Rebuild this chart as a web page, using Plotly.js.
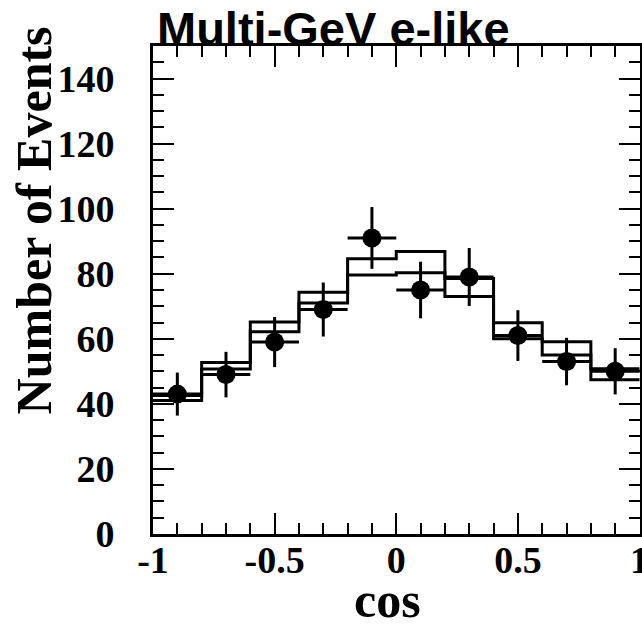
<!DOCTYPE html>
<html>
<head>
<meta charset="utf-8">
<script src="https://cdn.plot.ly/plotly-3.0.1.min.js"></script>
<style>html,body{margin:0;padding:0;background:#fff;}#chart{width:642px;height:628px;}</style>
</head>
<body>
<div id="chart"></div>
<script>
// Bin edges of cos(zenith angle) histogram
const binEdges = [-1, -0.8, -0.6, -0.4, -0.2, 0, 0.2, 0.4, 0.6, 0.8, 1];
const binCenters = [-0.9, -0.7, -0.5, -0.3, -0.1, 0.1, 0.3, 0.5, 0.7, 0.9];
// Data points (number of events) and their errors
const dataEvents = [43, 49, 59, 69, 91, 75, 79, 61, 53, 50];
const dataErr = [6.6, 7.0, 7.7, 8.3, 9.5, 8.7, 8.9, 7.8, 7.3, 7.1];
const dataBinHalf = [0.1, 0.1, 0.1, 0.1, 0.1, 0.1, 0.1, 0.1, 0.1, 0.1];
// Monte Carlo expectation, no oscillation
const mcNoOsc = [42.6, 52.7, 65.2, 74.3, 84.6, 86.8, 78.5, 64.9, 59.1, 50.8];
// Best-fit oscillation expectation
const mcOsc = [41.0, 50.7, 62.2, 71.0, 79.6, 80.3, 73.0, 60.0, 55.0, 47.4];
// Tick labels
const xTickVals = [-1, -0.5, 0, 0.5, 1];
const xTickText = ['-1', '-0.5', '0', '0.5', '1'];
const yTickVals = [0, 20, 40, 60, 80, 100, 120, 140];
const yTickText = ['0', '20', '40', '60', '80', '100', '120', '140'];

function stepY(vals) { return vals.concat([vals[vals.length - 1]]); }

const serifBold = {family: 'Liberation Serif, Times New Roman, serif', weight: 'bold', color: '#000'};

const traces = [
  {x: binEdges, y: stepY(mcNoOsc), type: 'scatter', mode: 'lines',
   line: {shape: 'hv', color: '#000', width: 3}, name: 'MC no oscillation', hoverinfo: 'skip'},
  {x: binEdges, y: stepY(mcOsc), type: 'scatter', mode: 'lines',
   line: {shape: 'hv', color: '#000', width: 3}, name: 'oscillation best fit', hoverinfo: 'skip'},
  {x: binCenters, y: dataEvents, type: 'scatter', mode: 'markers',
   marker: {color: '#000', size: 19, symbol: 'circle'},
   error_y: {type: 'data', array: dataErr, visible: true, color: '#000', thickness: 3, width: 0},
   error_x: {type: 'data', array: dataBinHalf, visible: true, color: '#000', thickness: 3, width: 0},
   name: 'Data'}
];

const axisCommon = {
  showline: true, linecolor: '#000', linewidth: 3, mirror: 'ticks',
  ticks: 'inside', ticklen: 21, tickwidth: 2, tickcolor: '#000',
  showgrid: false, zeroline: false, fixedrange: true,
  tickfont: Object.assign({size: 38}, serifBold)
};

const layout = {
  width: 642, height: 628,
  margin: {l: 153, r: 2, t: 46, b: 94},
  paper_bgcolor: '#fff', plot_bgcolor: '#fff',
  showlegend: false,
  xaxis: Object.assign({}, axisCommon, {
    range: [-1, 1.002], tickmode: 'array', tickvals: xTickVals, ticktext: xTickText,
    ticklabelstandoff: -10, ticklabeloverflow: 'allow',
    minor: {dtick: 0.1, ticks: 'inside', ticklen: 11, tickwidth: 2, tickcolor: '#000', showgrid: false}
  }),
  yaxis: Object.assign({}, axisCommon, {
    range: [0, 150], tickmode: 'array', tickvals: yTickVals, ticktext: yTickText,
    ticklabelstandoff: 28,
    minor: {dtick: 5, ticks: 'inside', ticklen: 11, tickwidth: 2, tickcolor: '#000', showgrid: false}
  }),
  annotations: [
    {text: 'Multi-GeV e-like', xref: 'paper', yref: 'paper', x: 0.004, y: 1.035,
     xanchor: 'left', yanchor: 'middle', showarrow: false,
     font: {family: 'Liberation Sans, Arial, sans-serif', weight: 'bold', size: 47, color: '#000'}},
    {text: 'Number of Events', xref: 'paper', yref: 'paper', x: -0.244, y: 0.643,
     xanchor: 'center', yanchor: 'middle', textangle: -90, showarrow: false,
     font: Object.assign({size: 50}, serifBold)},
    {text: 'cos', xref: 'paper', yref: 'paper', x: 0.4805, y: -0.136,
     xanchor: 'center', yanchor: 'middle', showarrow: false,
     font: Object.assign({size: 50}, serifBold)}
  ]
};

Plotly.newPlot('chart', traces, layout, {staticPlot: true, displayModeBar: false});
</script>
</body>
</html>
